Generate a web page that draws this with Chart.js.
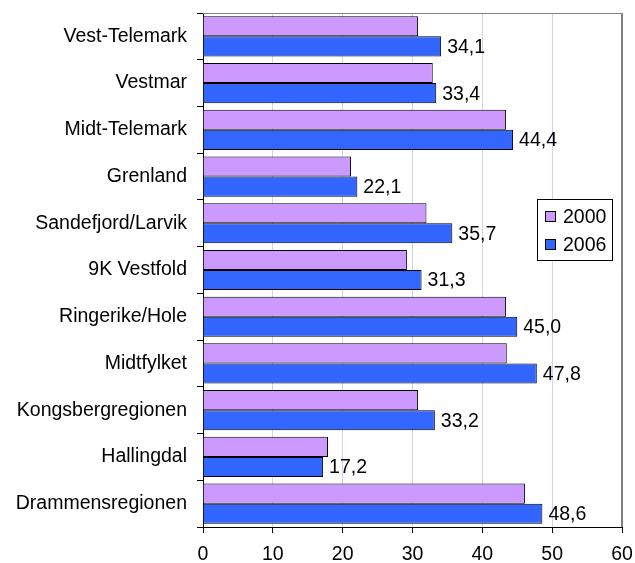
<!DOCTYPE html>
<html>
<head>
<meta charset="utf-8">
<script src="https://cdn.jsdelivr.net/npm/chart.js@4"></script>
<style>
  html, body { margin: 0; padding: 0; background: #fff; }
  #wrap { width: 635px; height: 563px; position: relative; }
</style>
</head>
<body>
<div id="wrap"><canvas id="regionChart"></canvas></div>
<script>
const regions = [
  "Vest-Telemark", "Vestmar", "Midt-Telemark", "Grenland", "Sandefjord/Larvik",
  "9K Vestfold", "Ringerike/Hole", "Midtfylket", "Kongsbergregionen",
  "Hallingdal", "Drammensregionen"
];
const values2000 = [30.8, 32.9, 43.4, 21.2, 32.0, 29.2, 43.4, 43.5, 30.8, 17.9, 46.1];
const values2006 = [34.1, 33.4, 44.4, 22.1, 35.7, 31.3, 45.0, 47.8, 33.2, 17.2, 48.6];
const xTicks = [0, 10, 20, 30, 40, 50, 60];

const FONT = "'Liberation Sans', Arial, sans-serif";
Chart.defaults.font.family = FONT;
Chart.defaults.font.size = 19.5;
Chart.defaults.color = "#000";

// value labels on the 2006 bars, comma as decimal mark
const barLabels = {
  id: "barLabels",
  afterDatasetsDraw(chart) {
    const ctx = chart.ctx;
    const meta = chart.getDatasetMeta(1);
    ctx.save();
    ctx.font = "19.5px " + FONT;
    ctx.fillStyle = "#000";
    ctx.textBaseline = "middle";
    ctx.textAlign = "left";
    meta.data.forEach((bar, i) => {
      const txt = values2006[i].toFixed(1).replace(".", ",");
      ctx.fillText(txt, bar.x + 6, bar.y + 1);
    });
    ctx.restore();
  }
};

// grey frame on top and right of the plot area
const plotFrame = {
  id: "plotFrame",
  beforeDatasetsDraw(chart) {
    const { left, right, top, bottom } = chart.chartArea;
    const ctx = chart.ctx;
    ctx.save();
    ctx.strokeStyle = "#808080";
    ctx.lineWidth = 1;
    ctx.beginPath();
    ctx.moveTo(left, top + 0.5);
    ctx.lineTo(right - 0.5, top + 0.5);
    ctx.lineTo(right - 0.5, bottom);
    ctx.stroke();
    ctx.restore();
  }
};

// boxed legend sitting inside the plot, right side
const boxLegend = {
  id: "boxLegend",
  afterDraw(chart) {
    const ctx = chart.ctx;
    const area = chart.chartArea;
    const x = area.right - 85, y = area.top + 186;
    const w = 75, h = 61;
    ctx.save();
    ctx.fillStyle = "#fff";
    ctx.fillRect(x, y, w, h);
    ctx.strokeStyle = "#000";
    ctx.lineWidth = 1;
    ctx.strokeRect(x + 0.5, y + 0.5, w, h);
    ctx.font = "19.5px " + FONT;
    ctx.textBaseline = "middle";
    chart.data.datasets.forEach((ds, i) => {
      const cy = y + 18 + i * 28;
      ctx.fillStyle = ds.backgroundColor;
      ctx.fillRect(x + 8, cy - 6, 11, 11);
      ctx.strokeStyle = "#000";
      ctx.strokeRect(x + 8.5, cy - 5.5, 10, 10);
      ctx.fillStyle = "#000";
      ctx.fillText(ds.label, x + 26, cy + 1);
    });
    ctx.restore();
  }
};

new Chart(document.getElementById("regionChart"), {
  type: "bar",
  data: {
    labels: regions,
    datasets: [
      {
        label: "2000",
        data: values2000,
        backgroundColor: "#cc99ff",
        borderColor: "#000",
        borderWidth: 1,
        categoryPercentage: 0.86,
        barPercentage: 1.0,
      },
      {
        label: "2006",
        data: values2006,
        backgroundColor: "#3366ff",
        borderColor: "#000",
        borderWidth: 1,
        categoryPercentage: 0.86,
        barPercentage: 1.0,
      },
    ],
  },
  options: {
    indexAxis: "y",
    responsive: true,
    maintainAspectRatio: false,
    animation: false,
    layout: { padding: { top: 13, right: 13, bottom: 0, left: 0 } },
    plugins: {
      legend: { display: false },
      tooltip: { enabled: false },
    },
    scales: {
      x: {
        min: 0,
        max: 60,
        afterBuildTicks: (scale) => {
          scale.ticks = xTicks.map((v) => ({ value: v }));
        },
        afterFit: (scale) => {
          scale.height = 36;
          scale.paddingLeft = 0;
          scale.paddingRight = 0;
        },
        border: { color: "#000", width: 1 },
        grid: {
          color: (c) => {
            const v = c.tick && c.tick.value;
            if (v === 0) return "rgba(0,0,0,0)";
            if (v === 60) return "#808080";
            return "#d0d0f4";
          },
          tickColor: "#000",
          tickLength: 6,
        },
        ticks: { padding: 10, maxRotation: 0 },
      },
      y: {
        afterFit: (scale) => {
          scale.width = 203;
          scale.paddingTop = 0;
          scale.paddingBottom = 0;
        },
        border: { color: "#000", width: 1 },
        grid: {
          drawOnChartArea: false,
          tickColor: "#000",
          tickLength: 6,
          offset: true,
        },
        ticks: { padding: 10 },
      },
    },
  },
  plugins: [plotFrame, barLabels, boxLegend],
});
</script>
</body>
</html>
